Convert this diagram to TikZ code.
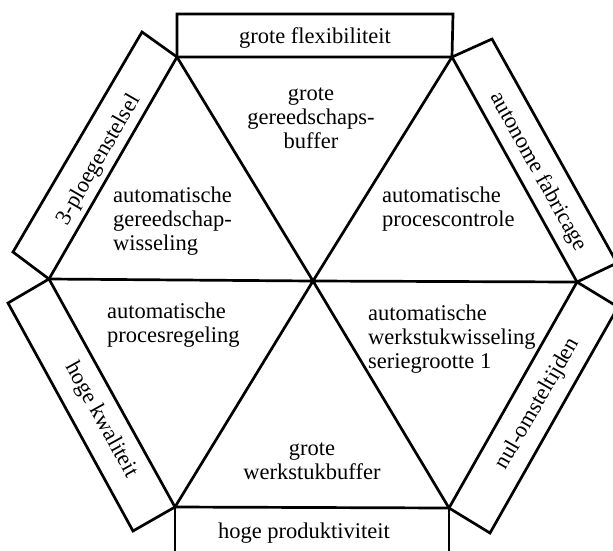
\documentclass[tikz,border=0pt]{standalone}
\usepackage{fontspec}
\setmainfont{Liberation Serif}
\begin{document}
\begin{tikzpicture}[x=1pt,y=-1pt,
  edge/.style={line width=2.7pt, line join=miter},
  lbl/.style={font=\fontsize{22.5}{24}\selectfont, inner sep=0pt}]
\useasboundingbox (0,0) rectangle (613,550);
\clip (0,0) rectangle (613,550);
% hexagon vertices
\coordinate (TL) at (177,57);
\coordinate (TR) at (452,57);
\coordinate (R) at (577,282);
\coordinate (BR) at (449,508);
\coordinate (BL) at (175,507);
\coordinate (L) at (49,279);
\coordinate (C) at (313,281);
% outer corners of the side boxes
\coordinate (TLt) at (177,14);
\coordinate (TRt) at (453,14);
\coordinate (TLp) at (142,32);
\coordinate (Lp) at (13,252);
\coordinate (TRa) at (492,39);
\coordinate (Ra) at (617,263);
\coordinate (Rn) at (618,307);
\coordinate (BRn) at (490,533);
\coordinate (Lk) at (8,303);
\coordinate (BLk) at (133,531);
\coordinate (BLb) at (175,575);
\coordinate (BRb) at (449,575);
% hexagon and diagonals
\draw[edge] (TL)--(TR)--(R)--(BR)--(BL)--(L)--cycle;
\draw[edge] (TL)--(C)--(BR) (TR)--(C)--(BL) (L)--(C)--(R);
% side boxes
\draw[edge] (TL)--(TLt)--(TRt)--(TR);
\draw[edge] (TL)--(TLp)--(Lp)--(L);
\draw[edge] (TR)--(TRa)--(Ra)--(R);
\draw[edge] (R)--(Rn)--(BRn)--(BR);
\draw[edge] (L)--(Lk)--(BLk)--(BL);
\draw[edge] (BL)--(BLb) (BR)--(BRb);
% box labels
\node[lbl, anchor=base] (flex) at (315,43) {grote flexibiliteit};
\node[lbl, anchor=base] (prod) at (304,538) {hoge produktiviteit};
\node[lbl, rotate=60] (ploeg) at (99,160) {3-ploegenstelsel};
\node[lbl, rotate=-61] (auton) at (538,172) {autonome fabricage};
\node[lbl, rotate=-61] (kwal) at (101,420) {hoge kwaliteit};
\node[lbl, rotate=60] (nul) at (538,404) {nul-omsteltijden};
% triangle labels (base anchor = baseline of the last line)
\node[lbl, align=center, anchor=base] (gbuf) at (311,148) {grote\\gereedschaps-\\buffer};
\node[lbl, align=left, anchor=base west] (gwis) at (113,250) {automatische\\gereedschap-\\wisseling};
\node[lbl, align=left, anchor=base west] (pcon) at (382,226) {automatische\\procescontrole};
\node[lbl, align=left, anchor=base west] (preg) at (107,342) {automatische\\procesregeling};
\node[lbl, align=left, anchor=base west] (wwis) at (368,368) {automatische\\werkstukwisseling\\seriegrootte 1};
\node[lbl, align=center, anchor=base] (wbuf) at (312,479) {grote\\werkstukbuffer};
\end{tikzpicture}
\end{document}
